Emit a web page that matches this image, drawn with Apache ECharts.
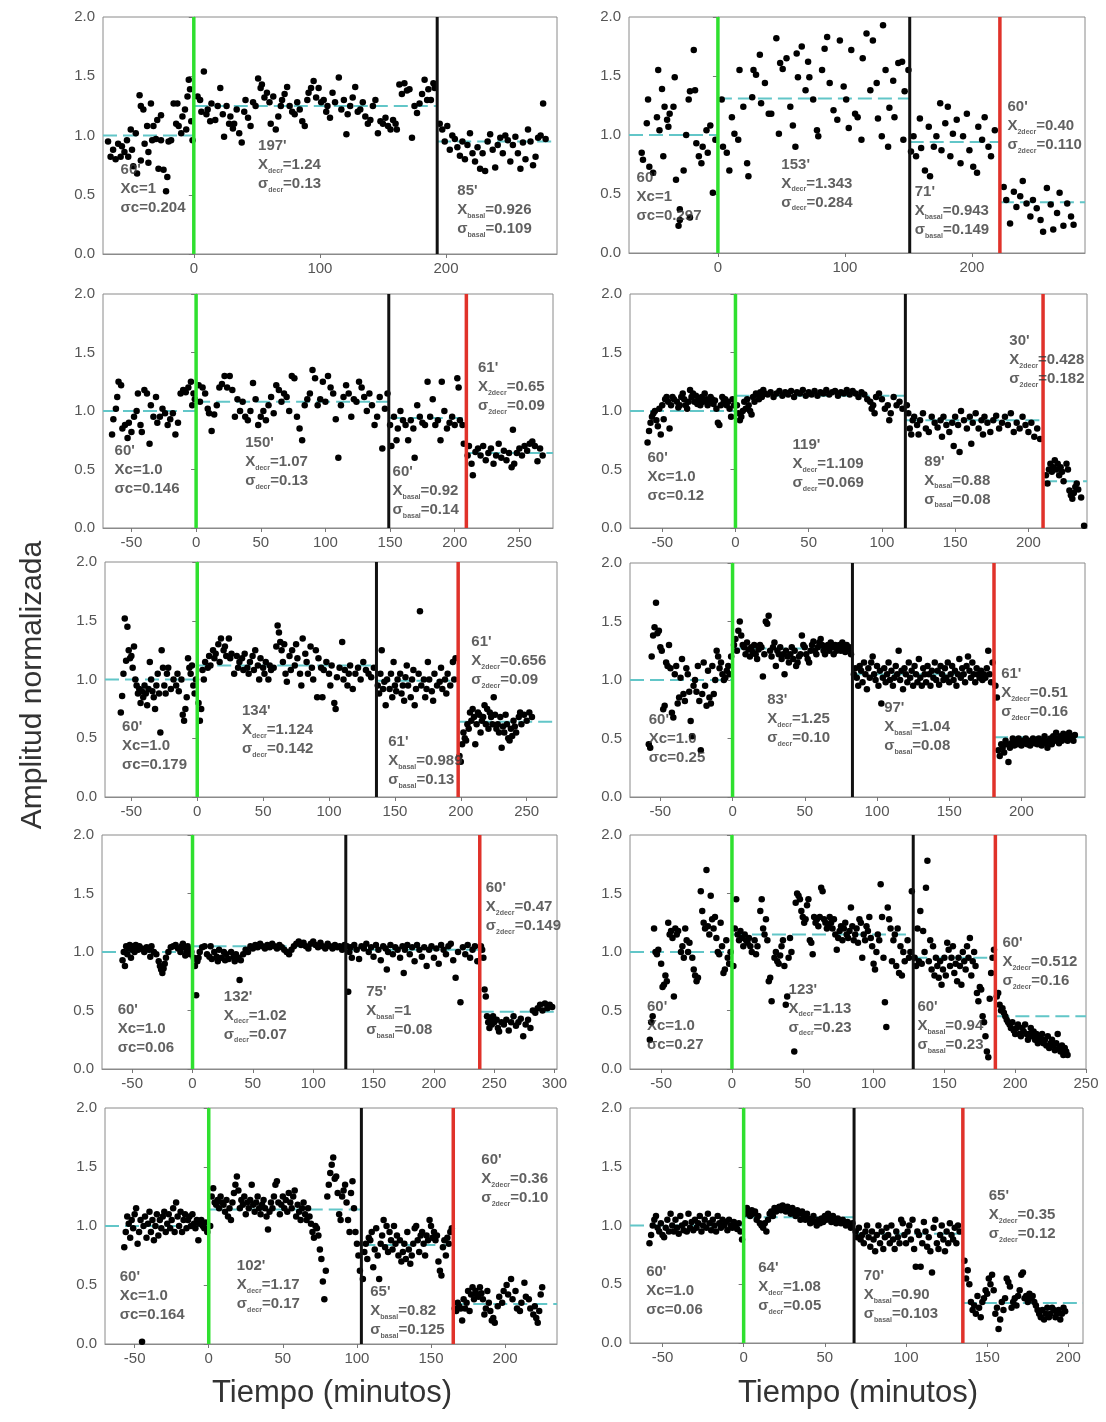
<!DOCTYPE html>
<html><head><meta charset="utf-8">
<script src="https://cdn.jsdelivr.net/npm/echarts@6/dist/echarts.min.js"></script>
<style>html,body{margin:0;padding:0;background:#fff}#c{width:1106px;height:1422px}</style>
</head><body><div id="c"></div>
<script>
// ---------- DATA ----------
const yTicks = [0, 0.5, 1, 1.5, 2];
const xTicks1 = [0, 100, 200];
const xTicks3 = [-50, 0, 50, 100, 150, 200, 250];
const xTicks4 = [-50, 0, 50, 100, 150, 200];
const xTicks7 = [-50, 0, 50, 100, 150, 200, 250, 300];
const xTicks8 = [-50, 0, 50, 100, 150, 200, 250];

const xRanges = [[-72,288],[-70,289],[-72,276],[-72,240],[-70,273],[-71,244],[-75,302],[-72,250],[-70,235],[-70,209]];
// vertical event lines: stimulus start (green), end of decrease (black), second decrease (red)
const events = [[0,193,null],[0,151,222],[0,149,209],[0,116,210],[0,136,198],[0,83,181],[0,127,238],[0,128,186],[0,103,165],[0,68,135]];
// mean levels per segment: control, decr, basal, 2decr
const meanLevels = [[1.0,1.25,0.95,null],[1.0,1.31,0.94,0.43],[1.0,1.08,0.94,0.64],[1.0,1.13,0.92,0.40],[1.0,1.12,0.99,0.64],[1.0,1.27,1.05,0.51],[1.0,1.05,1.02,0.49],[1.0,1.15,0.95,0.45],[1.0,1.14,0.84,0.34],[1.0,1.07,0.93,0.34]];

const p1 = [[-68,0.95],[-66,0.82],[-64,0.88],[-62,0.80],[-60,0.93],[-58,0.82],[-57,0.91],[-55,0.86],[-53,0.96],[-52,0.82],[-50,1.05],[-49,0.88],[-48,0.74],[-46,1.02],[-45,0.68],[-43,1.34],[-42,1.25],[-42,0.79],[-40,1.22],[-39,0.93],[-37,1.08],[-36,0.86],[-36,0.77],[-34,1.27],[-33,0.96],[-32,1.08],[-30,0.97],[-29,1.13],[-28,0.72],[-26,1.17],[-26,0.96],[-24,0.71],[-22,0.53],[-21,0.65],[-20,0.95],[-18,0.96],[-16,1.27],[-14,1.10],[-13,1.27],[-12,1.08],[-10,1.02],[-9,1.16],[-7,1.22],[-6,1.05],[-5,1.33],[-4,1.47],[-3,1.39],[-2,1.12],[-1,0.96],
[3,1.33],[5,1.30],[6,1.20],[8,1.54],[10,1.18],[11,1.22],[13,1.12],[14,1.27],[17,1.13],[19,1.25],[21,1.40],[23,1.18],[24,0.99],[26,1.25],[28,1.10],[29,1.16],[31,1.06],[32,1.10],[34,1.22],[36,1.02],[38,0.94],[40,1.20],[41,1.30],[43,1.15],[45,1.08],[47,1.28],[49,1.25],[51,1.48],[53,1.40],[54,1.43],[56,1.32],[58,1.36],[60,1.28],[61,1.10],[63,1.33],[65,1.05],[67,1.16],[69,1.25],[70,1.30],[72,1.35],[74,1.41],[76,1.25],[78,1.20],[80,1.18],[82,1.28],[84,1.22],[86,1.12],[88,1.08],[90,1.30],[91,1.36],[93,1.40],[95,1.46],[97,1.32],[99,1.40],[101,1.28],[103,1.30],[105,1.20],[106,1.25],[108,1.15],[110,1.36],[112,1.28],[115,1.49],[117,1.22],[119,1.30],[121,1.01],[122,1.18],[124,1.25],[126,1.32],[128,1.41],[130,1.20],[132,1.22],[134,1.28],[136,1.16],[138,1.10],[140,1.13],[142,1.25],[144,1.30],[146,1.02],[148,1.12],[150,1.10],[152,1.15],[154,1.08],[156,1.05],[158,1.13],[160,1.10],[161,1.05],[163,1.43],[165,1.35],[167,1.44],[169,1.38],[171,1.39],[173,0.98],[175,1.25],[177,1.19],[179,1.27],[181,1.35],[183,1.47],[185,1.30],[186,1.39],[188,1.30],[190,1.44],[191,1.40],
[195,1.10],[197,1.05],[199,0.95],[201,1.08],[203,0.88],[205,1.00],[207,0.97],[209,0.90],[211,0.83],[213,0.95],[215,0.80],[217,0.92],[219,1.02],[221,0.85],[223,0.78],[225,0.90],[227,0.72],[229,0.85],[231,0.70],[233,0.95],[235,1.01],[237,0.88],[239,0.73],[241,0.92],[243,0.98],[245,0.85],[247,1.00],[249,0.96],[251,0.78],[253,0.92],[255,0.99],[257,0.85],[259,0.72],[261,0.94],[263,0.80],[265,1.05],[267,0.95],[269,0.75],[271,0.82],[273,0.98],[275,1.00],[277,1.27],[279,0.97]];

const p2 = [[-60,0.85],[-59,0.79],[-56,1.10],[-55,1.30],[-54,0.73],[-51,0.68],[-48,1.15],[-47,1.55],[-46,1.04],[-44,1.39],[-43,0.82],[-42,1.24],[-40,1.13],[-39,1.07],[-38,1.18],[-35,1.24],[-34,1.49],[-33,0.62],[-31,0.23],[-30,0.37],[-30,0.28],[-27,0.70],[-25,1.00],[-23,1.30],[-22,1.37],[-22,0.30],[-19,1.72],[-18,1.38],[-17,0.93],[-15,0.82],[-13,0.76],[-12,0.90],[-9,1.04],[-8,0.85],[-6,1.08],[-4,0.51],[-2,0.96],
[3,1.30],[4,0.90],[7,0.85],[9,0.70],[11,1.15],[13,1.01],[16,0.96],[17,1.55],[20,1.24],[23,0.76],[24,0.65],[27,1.32],[28,1.55],[30,1.51],[33,1.68],[34,1.27],[37,1.44],[40,1.18],[42,1.18],[46,1.82],[48,1.01],[49,1.61],[51,1.56],[54,1.65],[57,1.24],[59,1.08],[61,0.90],[62,1.69],[63,1.49],[66,1.75],[69,1.38],[71,1.62],[72,1.49],[75,1.30],[78,1.04],[79,0.99],[82,1.55],[84,1.73],[86,1.83],[88,1.44],[91,1.21],[94,1.13],[96,1.80],[99,1.41],[101,1.30],[103,1.06],[105,1.72],[108,1.18],[110,1.15],[113,0.96],[114,1.65],[117,1.86],[120,1.38],[122,1.80],[125,1.44],[126,1.14],[129,0.99],[130,1.93],[132,1.55],[134,0.90],[135,1.23],[138,1.46],[139,1.15],[142,1.61],[145,1.62],[146,0.96],[147,1.37],[150,1.55],
[152,0.86],[154,0.99],[156,0.82],[159,1.14],[160,0.89],[163,0.70],[166,1.07],[167,0.65],[170,0.90],[172,0.99],[175,1.27],[176,0.87],[179,1.10],[181,1.24],[183,0.82],[185,1.01],[188,1.13],[191,0.76],[193,0.99],[196,1.18],[198,0.87],[201,0.73],[204,0.68],[205,1.07],[208,0.96],[210,1.15],[213,0.90],[215,0.82],[218,1.04],
[225,0.56],[227,0.45],[230,0.25],[233,0.52],[235,0.39],[238,0.48],[240,0.61],[243,0.42],[246,0.31],[248,0.45],[251,0.38],[254,0.28],[256,0.18],[259,0.55],[262,0.41],[264,0.20],[267,0.34],[269,0.51],[272,0.23],[275,0.42],[278,0.31],[280,0.24]];

const p3 = [[-65,0.80],[-64,0.93],[-62,1.02],[-61,1.12],[-60,1.25],[-58,1.22],[-57,0.85],[-55,0.88],[-53,0.77],[-52,0.90],[-50,0.82],[-48,0.95],[-46,1.00],[-45,1.15],[-43,0.88],[-42,0.82],[-40,1.18],[-38,1.15],[-36,0.72],[-35,1.05],[-33,0.95],[-31,1.12],[-30,0.90],[-28,0.95],[-26,1.02],[-24,0.98],[-22,0.88],[-20,0.93],[-18,0.98],[-16,0.80],[-14,0.90],[-12,1.15],[-10,1.18],[-8,1.16],[-6,1.20],[-4,1.25],[-3,1.05],[-2,1.15],[-1,1.10],
[2,1.22],[3,1.08],[5,1.20],[7,1.15],[9,1.02],[10,0.98],[12,0.83],[14,0.97],[16,1.05],[18,1.20],[20,1.23],[22,1.30],[24,1.20],[26,1.30],[28,1.18],[30,0.95],[32,1.10],[34,1.00],[36,1.08],[38,0.95],[40,0.92],[42,1.00],[44,1.24],[46,1.10],[48,0.88],[50,0.95],[52,1.00],[54,0.92],[56,1.05],[58,1.12],[60,0.98],[62,1.22],[64,1.18],[66,1.08],[68,1.15],[70,1.12],[72,1.00],[74,1.30],[76,1.28],[78,0.95],[80,0.85],[82,0.75],[84,1.05],[86,1.10],[88,1.15],[90,1.35],[92,1.28],[94,1.05],[96,1.10],[98,1.25],[100,1.08],[102,1.30],[104,1.20],[106,1.15],[108,0.93],[110,0.60],[112,1.05],[114,1.12],[116,1.22],[118,1.15],[120,0.95],[122,1.10],[124,1.08],[126,1.25],[128,1.20],[130,1.12],[132,1.00],[134,1.15],[136,1.05],[138,0.88],[140,0.95],[142,1.12],[144,0.68],[146,1.02],[148,1.15],
[150,0.88],[151,0.70],[153,0.95],[155,0.75],[156,0.85],[158,1.00],[160,0.92],[162,0.88],[164,0.75],[166,0.92],[168,0.85],[169,0.60],[171,1.05],[173,0.95],[175,0.90],[177,0.88],[179,1.25],[181,0.95],[183,1.10],[185,0.88],[187,0.92],[189,0.75],[190,1.25],[192,1.00],[194,0.85],[196,0.90],[198,0.95],[200,0.88],[202,1.28],[203,1.20],[204,0.92],[206,0.88],[207,0.72],
[210,0.62],[211,0.70],[213,0.55],[214,0.45],[216,0.65],[218,0.68],[220,0.62],[222,0.70],[224,0.58],[226,0.64],[228,0.68],[230,0.55],[232,0.62],[234,0.72],[236,0.60],[238,0.66],[240,0.58],[242,0.64],[244,0.52],[245,0.84],[246,0.55],[248,0.64],[250,0.68],[252,0.62],[254,0.70],[256,0.66],[258,0.72],[260,0.74],[262,0.70],[264,0.57],[266,0.68],[268,0.62]];

const p4 = [[-60,0.73],[-59,0.83],[-58,0.90],[-57,0.95],[-56,0.98],[-55,1.00],[-54,0.92],[-53,0.87],[-52,1.02],[-51,0.80],[-50,1.05],[-49,0.93],[-48,1.10],[-47,1.12],[-46,1.08],[-45,0.85],[-44,1.05],[-43,1.12],[-42,1.10],[-40,1.08],[-39,1.03],[-38,1.05],[-37,1.12],[-36,1.15],[-35,1.10],[-34,1.05],[-33,1.02],[-32,1.08],[-31,1.18],[-30,1.12],[-29,1.15],[-28,1.08],[-27,1.13],[-26,1.06],[-25,1.10],[-24,1.05],[-23,1.12],[-22,1.08],[-21,1.15],[-20,1.10],[-19,1.05],[-18,1.08],[-17,1.12],[-16,1.10],[-15,1.06],[-14,1.09],[-13,1.02],[-12,0.90],[-11,0.88],[-10,1.05],[-9,1.12],[-8,1.08],[-7,1.10],[-6,1.05],[-5,1.08],[-4,1.02],[-3,0.95],[-2,1.10],[-1,1.05],
[1,1.05],[2,0.98],[3,0.92],[4,0.95],[5,1.00],[6,1.08],[7,1.02],[8,1.10],[9,1.05],[10,1.00],[11,0.97],[12,1.12],[13,1.08],[14,1.15],[15,1.14],[16,1.10],[17,1.16],[18,1.12],[19,1.18],[20,1.15],[22,1.14],[24,1.16],[26,1.12],[28,1.15],[30,1.17],[32,1.13],[34,1.16],[36,1.14],[38,1.17],[40,1.12],[42,1.16],[44,1.15],[46,1.18],[48,1.13],[50,1.16],[52,1.14],[54,1.17],[56,1.13],[58,1.16],[60,1.15],[62,1.18],[64,1.14],[66,1.16],[68,1.17],[70,1.13],[72,1.16],[74,1.15],[76,1.18],[78,1.14],[80,1.17],[82,1.15],[84,1.12],[86,1.16],[88,1.14],[90,1.10],[92,1.08],[93,1.02],[94,1.05],[95,0.98],[96,1.12],[98,1.15],[100,1.10],[102,1.02],[104,1.05],[105,0.92],[106,0.98],[108,1.12],[110,1.05],[112,1.08],[114,1.02],
[117,1.05],[118,0.98],[119,0.85],[120,0.80],[121,0.92],[122,0.95],[124,0.88],[125,0.80],[126,0.92],[128,0.98],[130,0.85],[132,0.82],[134,0.95],[136,0.90],[138,0.86],[140,0.92],[141,0.78],[142,0.95],[144,0.88],[146,0.82],[148,0.90],[149,0.70],[150,0.95],[152,0.88],[153,0.65],[154,1.00],[156,0.92],[158,0.85],[160,0.95],[161,0.72],[162,0.90],[164,0.98],[166,0.85],[168,0.92],[169,0.80],[170,0.95],[172,0.90],[174,0.82],[176,0.92],[178,0.96],[180,0.85],[182,0.90],[184,0.95],[186,0.88],[188,0.98],[190,0.82],[192,0.90],[194,0.85],[196,0.95],[198,0.88],[200,0.82],[202,0.90],[204,0.78],[206,0.85],[208,0.76],
[212,0.45],[213,0.38],[214,0.50],[215,0.55],[216,0.48],[217,0.52],[218,0.58],[219,0.50],[220,0.55],[221,0.45],[222,0.52],[223,0.48],[224,0.40],[226,0.55],[227,0.50],[228,0.32],[229,0.28],[230,0.25],[231,0.30],[232,0.35],[233,0.38],[234,0.33],[236,0.26],[238,0.02]];

const p5 = [[-58,0.72],[-57,0.86],[-56,1.05],[-55,1.52],[-54,1.16],[-53,1.45],[-52,1.25],[-51,1.18],[-50,1.20],[-49,1.10],[-48,1.28],[-47,1.00],[-46,0.95],[-45,0.88],[-44,0.92],[-43,0.80],[-42,0.90],[-41,0.85],[-40,0.95],[-39,0.88],[-38,0.78],[-37,0.92],[-36,1.15],[-35,1.00],[-34,0.90],[-33,0.85],[-32,0.75],[-31,0.95],[-30,1.05],[-29,0.88],[-28,0.55],[-27,1.25],[-26,1.10],[-25,0.95],[-24,0.88],[-23,1.05],[-22,1.10],[-20,0.92],[-18,1.00],[-16,0.95],[-15,1.05],[-14,0.90],[-12,1.00],[-11,0.70],[-10,0.65],[-9,0.75],[-8,0.85],[-7,1.18],[-6,1.10],[-5,1.05],[-4,1.12],[-3,0.95],[-2,0.88],[-1,1.00],
[1,0.80],[2,0.65],[3,0.75],[4,1.08],[5,1.00],[6,1.15],[8,1.10],[9,1.20],[10,1.12],[12,1.25],[13,1.18],[14,1.22],[16,1.30],[17,1.15],[18,1.35],[20,1.25],[21,1.28],[22,1.20],[24,1.35],[25,1.18],[26,1.22],[28,1.05],[30,1.20],[31,1.10],[32,1.15],[34,1.18],[35,1.08],[36,1.22],[38,1.10],[39,1.05],[40,1.15],[42,1.20],[43,1.08],[44,1.25],[46,1.12],[47,1.00],[48,1.18],[50,1.10],[51,1.05],[52,1.15],[54,1.00],[55,1.12],[56,1.08],[58,1.10],[60,1.28],[61,1.46],[62,1.40],[63,1.32],[64,1.25],[65,1.15],[66,1.30],[67,1.05],[68,0.98],[70,1.20],[71,1.08],[72,1.25],[74,1.12],[75,1.30],[76,1.18],[78,1.05],[79,0.95],[80,1.35],[82,1.22],[83,1.15],[84,1.05],[86,1.28],[87,1.10],[88,1.00],[90,1.25],[91,0.85],[92,1.18],[94,1.10],[95,0.85],[96,1.08],[98,1.15],[100,1.05],[101,0.95],[102,1.12],[104,0.80],[105,0.75],[106,1.02],[108,1.10],[110,1.32],[111,1.00],[112,1.08],[114,0.95],[115,1.05],[116,1.12],[118,0.92],[120,1.05],[122,1.10],[124,1.00],[126,1.15],[128,1.08],[130,1.05],[132,1.02],[134,1.10],
[137,0.95],[138,0.88],[139,1.05],[140,1.25],[141,0.92],[142,0.98],[143,0.78],[144,1.00],[146,0.92],[147,1.05],[148,0.85],[149,1.15],[150,0.95],[151,0.90],[152,1.00],[154,1.05],[155,0.88],[156,0.95],[157,0.82],[158,1.02],[159,1.12],[160,0.95],[162,0.85],[163,1.00],[164,1.08],[165,0.78],[166,0.92],[168,1.05],[169,1.58],[170,0.95],[172,1.00],[173,0.85],[174,0.92],[175,1.15],[176,1.00],[178,0.90],[179,0.82],[180,1.05],[182,0.95],[184,0.98],[185,1.10],[186,0.92],[188,1.00],[189,0.88],[190,1.05],[192,0.95],[194,1.15],[195,1.00],[196,1.18],
[199,0.35],[200,0.30],[201,0.45],[202,0.55],[203,0.50],[204,0.48],[205,0.62],[206,0.58],[207,0.72],[208,0.65],[209,0.75],[210,0.68],[211,0.45],[212,0.62],[213,0.72],[214,0.70],[215,0.55],[216,0.65],[217,0.68],[218,0.78],[219,0.62],[220,0.75],[221,0.58],[222,0.72],[223,0.68],[224,0.62],[225,0.85],[226,0.70],[227,0.58],[228,0.62],[229,0.55],[230,0.68],[231,0.42],[232,0.60],[233,0.55],[234,0.70],[235,0.62],[236,0.50],[237,0.48],[238,0.58],[239,0.52],[240,0.65],[241,0.60],[242,0.55],[244,0.68],[245,0.72],[246,0.62],[248,0.70],[250,0.65],[252,0.72],[254,0.68]];

const p6 = [[-58,0.45],[-57,0.42],[-56,1.20],[-55,1.38],[-54,1.45],[-53,1.66],[-52,1.40],[-51,1.42],[-50,1.28],[-49,1.25],[-48,0.75],[-47,0.78],[-46,1.15],[-45,1.12],[-44,1.30],[-43,1.10],[-42,0.72],[-41,0.68],[-40,1.05],[-39,1.12],[-38,0.80],[-37,0.85],[-36,1.02],[-35,1.18],[-34,0.88],[-33,0.82],[-32,1.10],[-31,1.05],[-30,0.90],[-29,0.65],[-28,0.52],[-27,0.95],[-26,1.00],[-25,0.90],[-24,1.12],[-23,0.82],[-22,0.40],[-21,0.88],[-20,1.15],[-19,0.95],[-18,0.78],[-17,1.08],[-16,0.85],[-15,0.80],[-14,1.12],[-13,0.88],[-12,1.00],[-11,1.25],[-10,1.20],[-9,1.10],[-8,1.15],[-7,1.05],[-6,1.00],[-5,1.02],[-4,1.08],[-3,1.12],[-2,1.05],[-1,1.20],
[1,1.30],[2,1.35],[3,1.25],[4,1.42],[5,1.50],[6,1.38],[7,1.30],[8,1.28],[9,1.22],[10,1.32],[11,1.26],[12,1.20],[13,1.28],[14,1.24],[15,1.30],[16,1.22],[17,1.18],[18,1.26],[19,1.30],[20,1.28],[21,1.03],[22,1.22],[23,1.50],[24,1.48],[25,1.55],[26,1.25],[27,1.20],[28,1.28],[29,1.32],[30,1.12],[31,1.25],[32,1.22],[33,1.28],[34,1.18],[35,1.22],[36,1.05],[37,1.25],[38,1.20],[39,1.15],[40,1.22],[41,1.28],[42,1.18],[43,1.25],[44,1.12],[45,1.15],[46,1.20],[47,1.22],[48,1.38],[49,1.30],[50,1.28],[51,1.22],[52,1.18],[53,1.15],[54,1.25],[55,1.30],[56,1.33],[57,1.25],[58,1.22],[59,1.28],[60,1.32],[61,1.35],[62,1.30],[63,1.25],[64,1.22],[65,1.28],[66,1.30],[67,1.25],[68,1.32],[69,1.28],[70,1.22],[71,1.30],[72,1.25],[73,1.28],[74,1.30],[75,1.25],[76,1.32],[77,1.28],[78,1.24],[79,1.30],[80,1.26],[81,1.28],[82,1.22],
[84,1.05],[85,1.10],[86,1.02],[87,0.95],[88,1.12],[89,1.08],[90,0.98],[91,1.15],[92,1.05],[93,0.92],[94,1.10],[95,1.02],[96,1.15],[97,1.20],[98,1.05],[99,1.00],[100,1.12],[101,0.95],[102,1.08],[103,0.80],[104,1.02],[105,1.10],[106,0.98],[107,1.05],[108,1.15],[109,1.00],[110,1.08],[111,0.95],[112,1.02],[113,1.12],[114,1.05],[115,1.25],[116,1.00],[117,1.08],[118,0.92],[119,1.10],[120,1.05],[121,0.98],[122,1.15],[123,1.02],[124,1.08],[125,0.95],[126,1.12],[127,1.05],[128,0.98],[129,1.18],[130,1.02],[131,0.95],[132,1.10],[133,1.05],[134,0.98],[135,1.12],[136,1.05],[137,0.95],[138,1.08],[139,1.02],[140,1.15],[141,1.00],[142,1.08],[143,0.96],[144,1.12],[145,1.05],[146,1.00],[147,1.10],[148,1.02],[149,1.15],[150,0.98],[151,1.05],[152,1.12],[153,1.00],[154,1.08],[155,0.95],[156,1.05],[157,1.18],[158,1.02],[159,1.10],[160,1.05],[161,0.98],[162,1.12],[163,1.20],[164,1.08],[165,1.02],[166,1.15],[167,1.05],[168,0.98],[169,1.10],[170,1.05],[171,1.02],[172,1.08],[173,1.00],[174,1.05],[175,1.02],[176,1.10],[177,1.25],[178,1.05],[179,0.98],[180,1.15],
[182,0.95],[183,0.85],[184,0.40],[185,0.35],[186,0.45],[187,0.42],[188,0.38],[189,0.48],[190,0.45],[191,0.30],[192,0.42],[193,0.46],[194,0.50],[195,0.44],[196,0.48],[197,0.45],[198,0.50],[199,0.47],[200,0.44],[201,0.48],[202,0.46],[203,0.50],[204,0.45],[205,0.48],[206,0.44],[207,0.47],[208,0.50],[209,0.46],[210,0.48],[211,0.45],[212,0.50],[213,0.47],[214,0.44],[215,0.48],[216,0.52],[217,0.46],[218,0.42],[219,0.48],[220,0.50],[221,0.45],[222,0.52],[223,0.48],[224,0.55],[225,0.50],[226,0.46],[227,0.52],[228,0.48],[229,0.54],[230,0.50],[231,0.52],[232,0.48],[233,0.55],[234,0.50],[235,0.52],[236,0.48],[237,0.53]];

const p7 = [[-58,0.93],[-57,1.00],[-56,0.88],[-55,1.05],[-54,0.98],[-53,1.03],[-52,1.06],[-51,0.95],[-50,1.02],[-49,1.05],[-48,1.00],[-47,1.06],[-46,1.04],[-45,1.02],[-44,1.05],[-42,1.03],[-40,1.00],[-38,1.04],[-36,1.02],[-35,0.96],[-34,1.05],[-32,1.00],[-30,0.98],[-28,0.92],[-27,0.88],[-26,0.85],[-25,0.82],[-24,0.86],[-23,0.90],[-22,0.95],[-20,1.00],[-18,1.04],[-16,1.05],[-14,1.06],[-12,1.03],[-10,1.00],[-9,1.05],[-8,1.07],[-7,1.04],[-6,0.97],[-5,1.00],[-4,1.05],[-3,1.02],[-2,0.98],[-1,1.00],
[1,0.95],[2,0.88],[3,0.63],[4,0.92],[5,0.95],[6,1.00],[8,1.04],[10,1.05],[12,0.98],[14,0.96],[15,1.05],[16,0.94],[18,1.00],[20,0.96],[21,0.92],[22,1.02],[24,0.95],[26,1.00],[27,0.93],[28,0.98],[30,0.94],[32,1.00],[34,0.96],[35,0.92],[36,0.98],[38,0.95],[39,0.76],[40,0.93],[42,0.98],[44,1.02],[46,1.00],[48,1.05],[50,1.03],[52,1.06],[54,1.04],[56,1.07],[58,1.05],[60,1.03],[62,1.06],[64,1.04],[66,1.07],[68,1.05],[70,1.03],[72,1.06],[74,1.04],[76,1.02],[78,1.00],[80,0.98],[82,1.02],[84,1.05],[86,1.07],[88,1.09],[90,1.06],[92,1.08],[94,1.05],[96,1.03],[98,1.07],[100,1.09],[102,1.06],[104,1.04],[106,1.08],[108,1.05],[110,1.03],[112,1.07],[114,1.05],[116,1.03],[118,1.06],[120,1.04],[122,1.05],[124,1.02],[126,1.06],
[128,1.05],[129,0.66],[130,1.00],[131,1.04],[132,0.95],[134,1.06],[136,1.02],[138,0.94],[140,1.05],[142,1.03],[144,1.07],[146,1.00],[148,1.04],[150,0.96],[152,1.06],[154,1.02],[156,0.93],[158,1.05],[160,1.03],[161,0.85],[162,1.00],[164,1.06],[166,0.98],[168,1.04],[170,1.02],[172,0.95],[174,1.05],[175,0.82],[176,1.02],[178,1.06],[180,0.98],[182,1.04],[184,0.92],[186,1.06],[188,1.02],[190,0.96],[192,1.04],[194,0.88],[196,1.02],[198,1.05],[200,0.95],[202,1.03],[204,0.90],[206,1.06],[208,1.02],[210,0.98],[212,1.05],[214,1.07],[216,0.93],[218,0.78],[220,1.00],[222,0.57],[224,1.04],[226,0.98],[228,1.06],[230,0.95],[232,1.02],[234,1.05],[236,0.92],
[239,1.05],[240,1.02],[241,0.95],[242,0.68],[243,0.62],[244,0.45],[245,0.40],[246,0.35],[247,0.42],[248,0.38],[249,0.45],[250,0.40],[252,0.42],[253,0.35],[254,0.32],[256,0.40],[258,0.38],[260,0.42],[262,0.33],[264,0.40],[266,0.45],[268,0.37],[270,0.40],[272,0.43],[274,0.28],[276,0.38],[278,0.42],[280,0.35],[282,0.50],[284,0.48],[286,0.52],[288,0.55],[290,0.50],[292,0.56],[294,0.52],[296,0.55],[298,0.53]];

const p8 = [[-58,0.25],[-57,0.40],[-56,0.45],[-55,1.20],[-54,1.00],[-53,0.98],[-52,1.02],[-50,0.90],[-49,0.70],[-48,0.72],[-47,0.80],[-46,0.75],[-45,1.25],[-44,1.15],[-43,1.18],[-42,1.12],[-41,0.62],[-40,1.20],[-39,1.15],[-38,1.18],[-36,1.00],[-35,1.05],[-34,0.95],[-33,1.20],[-32,1.10],[-31,1.00],[-30,1.08],[-28,0.95],[-27,0.85],[-26,0.80],[-25,0.75],[-24,0.78],[-22,1.52],[-21,1.35],[-20,1.25],[-19,1.20],[-18,1.70],[-17,1.22],[-16,1.15],[-15,1.48],[-14,1.28],[-13,1.20],[-12,1.30],[-11,1.12],[-10,1.00],[-9,0.98],[-8,1.25],[-7,1.05],[-6,0.82],[-5,0.85],[-4,1.10],[-3,0.95],[-2,0.90],[-1,1.00],
[1,0.88],[2,1.20],[3,1.45],[4,1.15],[5,1.10],[6,1.18],[7,1.12],[8,1.05],[9,1.15],[10,1.10],[11,1.08],[12,1.12],[13,1.05],[14,1.00],[16,1.10],[17,0.98],[18,1.05],[20,1.35],[21,1.45],[22,1.20],[23,1.15],[24,1.28],[25,1.10],[26,0.75],[27,0.78],[28,0.58],[30,0.95],[31,1.00],[32,0.92],[33,0.90],[34,0.97],[35,1.05],[36,1.10],[37,0.88],[38,0.55],[39,0.62],[40,0.95],[41,1.12],[42,1.00],[44,0.15],[45,1.42],[46,1.50],[47,1.48],[48,1.45],[49,1.35],[50,1.30],[51,1.25],[52,1.28],[53,1.40],[54,1.45],[55,1.10],[56,1.08],[57,0.98],[58,1.30],[59,1.25],[60,1.28],[61,1.22],[62,1.30],[63,1.55],[64,1.52],[65,1.28],[66,1.25],[67,1.20],[68,1.22],[69,1.30],[70,1.25],[71,1.20],[72,1.28],[73,1.15],[74,1.02],[75,1.12],[76,1.18],[77,1.22],[78,1.10],[79,1.20],[80,1.25],[81,1.15],[82,1.12],[83,1.18],[84,1.38],[85,1.22],[86,1.10],[87,1.15],[88,1.20],[89,1.08],[90,1.28],[91,1.25],[92,0.95],[93,1.15],[94,1.10],[95,1.22],[96,1.18],[97,1.30],[98,1.12],[99,1.05],[100,0.90],[101,0.85],[102,1.00],[103,1.15],[104,1.10],[105,1.58],[106,1.30],[107,0.95],[108,0.57],[109,0.36],[110,1.38],[111,1.28],[112,1.20],[113,0.92],[114,1.10],[115,1.15],[116,0.88],[117,1.20],[118,0.82],[119,1.05],[120,0.80],[121,1.00],[122,0.92],[124,1.10],[125,0.95],[126,1.00],[127,1.52],
[129,0.95],[130,0.88],[131,1.20],[132,0.92],[133,1.35],[134,0.90],[135,1.18],[136,1.00],[137,1.55],[138,1.78],[139,0.92],[140,1.10],[141,0.85],[142,1.05],[143,0.80],[144,0.95],[145,0.88],[146,0.78],[147,0.92],[148,0.72],[149,0.85],[150,0.95],[151,0.80],[152,1.08],[153,1.02],[154,0.88],[155,0.95],[156,1.05],[157,0.82],[158,0.90],[159,0.75],[160,0.95],[161,0.88],[162,0.72],[163,1.00],[164,0.92],[165,0.85],[166,1.05],[167,0.95],[168,1.12],[169,0.80],[170,0.92],[171,1.00],[172,0.88],[173,0.65],[174,0.58],[175,0.70],[176,0.68],[177,0.45],[178,0.40],[179,0.28],[180,0.15],[181,0.10],[182,0.60],[183,0.82],[184,0.95],[185,1.02],
[187,0.62],[188,0.65],[189,0.55],[190,0.50],[191,0.52],[192,0.48],[193,0.45],[194,0.42],[195,0.40],[196,0.38],[197,0.35],[198,0.40],[199,0.33],[200,0.30],[201,0.35],[202,0.38],[203,0.30],[204,0.28],[205,0.35],[206,0.32],[207,0.38],[208,0.30],[209,0.25],[210,0.30],[211,0.35],[212,0.28],[213,0.32],[214,0.25],[215,0.30],[216,0.22],[217,0.28],[218,0.25],[219,0.30],[220,0.22],[221,0.25],[222,0.20],[223,0.28],[224,0.18],[225,0.22],[226,0.25],[227,0.20],[228,0.16],[229,0.22],[230,0.30],[231,0.18],[232,0.15],[233,0.20],[234,0.12],[235,0.18],[236,0.15],[237,0.12]];

const p9 = [[-57,0.82],[-56,0.95],[-55,1.08],[-54,1.02],[-53,0.90],[-52,1.05],[-51,0.98],[-50,1.10],[-49,1.15],[-48,0.85],[-47,0.95],[-46,1.05],[-45,0.02],[-44,1.00],[-43,1.08],[-42,0.90],[-41,1.02],[-40,1.12],[-39,0.95],[-38,1.05],[-37,0.88],[-36,1.00],[-35,1.10],[-34,0.92],[-33,1.05],[-32,0.98],[-31,1.08],[-30,1.12],[-29,0.95],[-28,1.02],[-27,1.10],[-26,0.98],[-25,1.05],[-24,1.15],[-23,0.95],[-22,1.20],[-21,1.08],[-20,1.00],[-19,1.12],[-18,0.95],[-17,1.05],[-16,1.10],[-15,0.98],[-14,1.05],[-13,1.08],[-12,1.00],[-11,1.10],[-10,1.02],[-9,0.98],[-8,1.05],[-7,0.88],[-6,1.02],[-5,1.05],[-4,1.00],[-3,0.98],[-2,1.03],[-1,0.95],
[1,1.00],[2,1.25],[3,1.32],[4,1.20],[5,1.18],[6,1.22],[7,1.15],[8,1.25],[9,1.20],[10,1.18],[11,1.12],[12,1.22],[13,1.08],[14,1.15],[15,1.05],[16,1.20],[17,1.28],[18,1.35],[19,1.42],[20,1.30],[21,1.15],[22,1.22],[23,1.18],[24,1.25],[25,1.10],[26,1.20],[27,1.15],[28,1.22],[29,1.35],[30,1.18],[31,1.12],[32,1.20],[33,1.25],[34,1.15],[35,1.10],[36,1.18],[37,1.22],[38,1.15],[39,1.08],[40,0.97],[41,1.12],[42,1.20],[43,1.15],[44,1.25],[45,1.35],[46,1.38],[47,1.20],[48,1.10],[49,1.18],[50,1.25],[51,1.15],[52,1.22],[53,1.12],[54,1.28],[55,1.20],[56,1.15],[57,1.25],[58,1.30],[59,1.08],[60,1.18],[61,1.12],[62,1.05],[63,1.15],[64,1.20],[65,1.10],[66,1.05],[67,1.15],[68,1.08],[69,1.02],[70,0.95],[71,0.90],[72,1.00],[73,0.98],[74,0.92],[75,0.80],[76,0.72],[77,0.53],[78,0.38],[79,0.62],[80,1.25],[81,1.35],[82,1.45],[83,1.52],[84,1.58],[85,1.40],[86,1.42],[87,1.28],[88,1.10],[89,1.05],[90,1.25],[91,1.30],[92,1.35],[93,1.20],[94,1.05],[95,0.95],[96,1.28],[97,1.38],[98,1.15],[99,0.95],[100,0.85],[101,0.75],[102,0.62],
[104,0.55],[105,0.78],[106,0.85],[107,0.72],[108,0.90],[109,0.88],[110,0.95],[111,0.65],[112,0.80],[113,0.98],[114,0.75],[115,0.55],[116,0.85],[117,0.92],[118,1.05],[119,0.82],[120,1.00],[121,0.78],[122,0.95],[123,0.88],[124,0.80],[125,1.00],[126,0.85],[127,0.92],[128,0.75],[129,0.88],[130,0.70],[131,0.78],[132,0.85],[133,0.72],[134,0.95],[135,0.80],[136,0.68],[137,0.75],[138,0.85],[139,0.98],[140,1.00],[141,0.88],[142,0.78],[143,0.92],[144,0.95],[145,0.85],[146,0.75],[147,0.92],[148,0.88],[149,1.05],[150,1.00],[151,0.90],[152,0.95],[153,0.88],[154,0.92],[155,0.70],[156,0.62],[157,0.58],[158,0.82],[159,0.88],[160,0.75],[161,0.90],[162,0.85],[163,0.95],[164,0.98],
[166,0.30],[167,0.28],[168,0.35],[169,0.32],[170,0.30],[171,0.20],[172,0.38],[173,0.30],[174,0.35],[175,0.45],[176,0.28],[177,0.42],[178,0.48],[179,0.38],[180,0.45],[181,0.42],[182,0.40],[183,0.48],[184,0.43],[185,0.38],[186,0.25],[187,0.30],[188,0.45],[189,0.35],[190,0.28],[191,0.20],[192,0.22],[193,0.18],[195,0.32],[196,0.40],[198,0.35],[199,0.45],[201,0.50],[202,0.42],[204,0.55],[205,0.38],[207,0.45],[208,0.30],[210,0.28],[211,0.35],[213,0.52],[214,0.40],[216,0.38],[217,0.30],[219,0.25],[220,0.32],[221,0.22],[222,0.18],[223,0.28],[224,0.42],[225,0.48]];

const p10 = [[-58,0.85],[-57,0.92],[-56,1.00],[-55,1.05],[-54,1.08],[-53,0.98],[-52,0.95],[-51,1.02],[-50,0.92],[-49,0.90],[-48,0.98],[-47,1.05],[-46,0.95],[-45,1.10],[-44,1.00],[-43,0.95],[-42,1.05],[-41,0.98],[-40,0.93],[-39,1.08],[-38,1.00],[-37,0.96],[-36,1.02],[-35,0.95],[-34,1.10],[-33,0.98],[-32,1.03],[-31,0.96],[-30,1.05],[-29,0.98],[-28,1.02],[-27,1.08],[-26,0.95],[-25,1.00],[-24,1.05],[-23,0.98],[-22,1.10],[-21,1.02],[-20,0.96],[-19,1.05],[-18,1.00],[-17,0.95],[-16,1.08],[-15,1.02],[-14,0.98],[-13,1.05],[-12,1.00],[-11,1.03],[-10,0.96],[-9,1.05],[-8,1.00],[-7,0.98],[-6,1.03],[-5,1.00],[-4,0.97],[-3,1.02],[-2,0.95],[-1,0.88],
[1,1.10],[2,1.15],[3,1.12],[4,1.08],[5,1.13],[6,1.10],[7,1.12],[8,1.05],[9,1.08],[10,1.02],[11,1.00],[12,0.98],[13,1.02],[14,0.95],[15,1.05],[16,1.10],[17,1.12],[18,1.08],[19,1.15],[20,1.12],[21,1.15],[22,1.16],[23,1.13],[24,1.17],[25,1.15],[26,1.12],[27,1.16],[28,1.14],[29,1.10],[30,1.15],[31,1.12],[32,1.08],[33,1.13],[34,1.10],[35,1.05],[36,1.12],[37,1.08],[38,1.05],[39,1.10],[40,1.06],[41,1.02],[42,1.05],[43,1.08],[44,1.03],[45,1.00],[46,1.05],[47,1.02],[48,1.06],[49,1.03],[50,1.08],[51,1.05],[52,1.10],[53,1.06],[54,1.03],[55,1.08],[56,1.05],[57,1.02],[58,1.06],[59,1.04],[60,1.02],[61,1.05],[62,1.03],[63,1.00],[64,1.03],[65,1.01],[66,0.98],[67,1.02],
[69,0.95],[70,0.90],[71,0.98],[72,0.88],[73,0.92],[74,0.85],[75,0.95],[76,1.00],[77,0.90],[78,0.82],[79,0.95],[80,0.88],[81,0.78],[82,0.92],[83,1.00],[84,0.85],[85,0.95],[86,0.80],[87,0.90],[88,0.98],[89,0.92],[90,0.85],[91,1.00],[92,0.88],[93,0.80],[94,0.95],[95,0.90],[96,0.85],[97,1.05],[98,1.02],[99,0.92],[100,0.85],[101,0.95],[102,1.00],[103,0.88],[104,1.05],[105,0.80],[106,0.65],[107,0.95],[108,0.92],[109,0.65],[110,0.85],[111,1.03],[112,0.95],[113,0.82],[114,0.90],[115,0.78],[116,0.60],[117,0.98],[118,1.05],[119,0.85],[120,0.80],[121,0.92],[122,1.00],[123,0.88],[124,0.78],[125,0.95],[126,0.85],[127,1.02],[128,0.92],[129,0.88],[130,0.98],[131,0.85],[132,1.00],[133,0.95],
[136,0.70],[137,0.55],[138,0.62],[139,0.50],[140,0.35],[141,0.28],[142,0.32],[143,0.25],[144,0.40],[145,0.30],[146,0.22],[147,0.35],[148,0.38],[149,0.45],[150,0.42],[151,0.55],[152,0.50],[153,0.58],[154,0.45],[155,0.25],[156,0.30],[157,0.12],[158,0.20],[159,0.35],[160,0.28],[161,0.38],[162,0.55],[163,0.52],[164,0.48],[165,0.30],[166,0.35],[167,0.38],[168,0.32],[169,0.40],[170,0.45],[171,0.58],[172,0.60],[173,0.38],[174,0.40],[175,0.35],[176,0.42],[177,0.38],[178,0.40],[179,0.35],[180,0.32],[181,0.28],[182,0.25],[183,0.22],[184,0.28],[185,0.20],[186,0.25],[187,0.30],[188,0.22],[189,0.25],[190,0.30],[191,0.28],[192,0.22],[193,0.25],[194,0.28],[195,0.20],[196,0.25],[197,0.30],[198,0.27]];

// annotation texts (X_sub / σ_sub use "_" for subscript)
const notes = [
 [["60'","Xc=1","σc=0.204"],["197'","X_decr=1.24","σ_decr=0.13"],["85'","X_basal=0.926","σ_basal=0.109"]],
 [["60'","Xc=1","σc=0.297"],["153'","X_decr=1.343","σ_decr=0.284"],["71'","X_basal=0.943","σ_basal=0.149"],["60'","X_2decr=0.40","σ_2decr=0.110"]],
 [["60'","Xc=1.0","σc=0.146"],["150'","X_decr=1.07","σ_decr=0.13"],["60'","X_basal=0.92","σ_basal=0.14"],["61'","X_2decr=0.65","σ_2decr=0.09"]],
 [["60'","Xc=1.0","σc=0.12"],["119'","X_decr=1.109","σ_decr=0.069"],["89'","X_basal=0.88","σ_basal=0.08"],["30'","X_2decr=0.428","σ_2decr=0.182"]],
 [["60'","Xc=1.0","σc=0.179"],["134'","X_decr=1.124","σ_decr=0.142"],["61'","X_basal=0.989","σ_basal=0.13"],["61'","X_2decr=0.656","σ_2decr=0.09"]],
 [["60'","Xc=1.0","σc=0.25"],["83'","X_decr=1.25","σ_decr=0.10"],["97'","X_basal=1.04","σ_basal=0.08"],["61'","X_2decr=0.51","σ_2decr=0.16"]],
 [["60'","Xc=1.0","σc=0.06"],["132'","X_decr=1.02","σ_decr=0.07"],["75'","X_basal=1","σ_basal=0.08"],["60'","X_2decr=0.47","σ_2decr=0.149"]],
 [["60'","Xc=1.0","σc=0.27"],["123'","X_decr=1.13","σ_decr=0.23"],["60'","X_basal=0.94","σ_basal=0.23"],["60'","X_2decr=0.512","σ_2decr=0.16"]],
 [["60'","Xc=1.0","σc=0.164"],["102'","X_decr=1.17","σ_decr=0.17"],["65'","X_basal=0.82","σ_basal=0.125"],["60'","X_2decr=0.36","σ_2decr=0.10"]],
 [["60'","Xc=1.0","σc=0.06"],["64'","X_decr=1.08","σ_decr=0.05"],["70'","X_basal=0.90","σ_basal=0.103"],["65'","X_2decr=0.35","σ_2decr=0.12"]]
];

// ---------- LAYOUT ----------
const grids = [[103,17,454,237],[629,17,456,236],[103,294,450,234],[630,294,457,234],[105,562,452,235],[630,563,455,234],[102,835,455,234],[630,835,456,234],[105,1108,452,236],[630,1108,453,235]];
const xTickSets = [xTicks1,xTicks1,xTicks3,xTicks4,xTicks3,xTicks4,xTicks7,xTicks8,xTicks4,xTicks4];
const notePos = [
 [[-58,0.79],[51,0.99],[209,0.61]],
 [[-64,0.72],[50,0.83],[155,0.60],[228,1.32]],
 [[-63,0.74],[38,0.81],[152,0.56],[218,1.45]],
 [[-60,0.68],[39,0.79],[129,0.65],[187,1.68]],
 [[-57,0.68],[34,0.81],[145,0.55],[208,1.40]],
 [[-58,0.74],[24,0.91],[105,0.84],[186,1.13]],
 [[-62,0.59],[26,0.70],[144,0.74],[243,1.63]],
 [[-60,0.61],[40,0.76],[131,0.61],[191,1.16]],
 [[-60,0.65],[19,0.74],[109,0.52],[184,1.64]],
 [[-60,0.69],[9,0.72],[74,0.65],[151,1.33]]
];
const points = [p1,p2,p3,p4,p5,p6,p7,p8,p9,p10];
const FONT = 'Liberation Sans, Arial, sans-serif';
const TEAL = '#62c6c8';
const EVENT_COLORS = ['#2fe02f', '#111111', '#e0322a'];

function richLine(s) {
  const m = s.match(/^([Xσ])_([a-z0-9]+)(=.*)$/);
  if (m) return '{n|' + m[1] + '}{s|' + m[2] + '}{n|' + m[3] + '}';
  return '{n|' + s + '}';
}

const option = { animation:false, backgroundColor:'#fff', grid:[], xAxis:[], yAxis:[], series:[], graphic:[] };

grids.forEach((g, i) => {
  option.grid.push({ left:g[0], top:g[1], width:g[2], height:g[3], show:true, borderColor:'#8a8a8a', borderWidth:1, backgroundColor:'#fff' });
  option.xAxis.push({ type:'value', gridIndex:i, min:xRanges[i][0], max:xRanges[i][1], splitLine:{show:false},
    axisLine:{show:true, onZero:false, lineStyle:{color:'#8a8a8a'}},
    axisTick:{show:true, length:4, customValues:xTickSets[i], lineStyle:{color:'#777'}},
    axisLabel:{customValues:xTickSets[i], color:'#555', fontSize:15, fontFamily:FONT, margin:7} });
  option.yAxis.push({ type:'value', gridIndex:i, min:0, max:2, interval:0.5, splitLine:{show:false},
    axisLine:{show:true, lineStyle:{color:'#8a8a8a'}},
    axisTick:{show:true, length:5, lineStyle:{color:'#777'}},
    axisLabel:{color:'#555', fontSize:15, fontFamily:FONT, margin:8, formatter: v => v.toFixed(1)} });

  const xr = xRanges[i], ev = events[i], ml = meanLevels[i];
  const bounds = [xr[0], ev[0], ev[1], ev[2] == null ? xr[1] : ev[2], xr[1]];
  ml.forEach((m, k) => {
    if (m == null) return;
    option.series.push({ type:'line', xAxisIndex:i, yAxisIndex:i, symbol:'none', silent:true, z:2,
      lineStyle:{color:TEAL, width:2, type:[14,6]}, data:[[bounds[k], m], [bounds[k+1], m]] });
  });
  option.series.push({ type:'scatter', xAxisIndex:i, yAxisIndex:i, symbolSize:6.5, z:3,
    itemStyle:{color:'#000', opacity:1}, data: points[i] });
  ev.forEach((v, k) => {
    if (v == null) return;
    option.series.push({ type:'line', xAxisIndex:i, yAxisIndex:i, symbol:'none', silent:true, z:4,
      lineStyle:{color:EVENT_COLORS[k], width: k === 1 ? 3 : 3.5}, data:[[v, 0], [v, 2]] });
  });
  option.series.push({ type:'scatter', xAxisIndex:i, yAxisIndex:i, symbolSize:0.1, z:6,
    itemStyle:{color:'rgba(0,0,0,0)'},
    label:{ show:true, position:[0,0], align:'left', verticalAlign:'top',
      formatter: p => notes[i][p.dataIndex].map(richLine).join('\n'),
      rich:{ n:{fontSize:15, fontWeight:'bold', color:'#383838', fontFamily:FONT, lineHeight:19},
             s:{fontSize:7, fontWeight:'bold', color:'#383838', fontFamily:FONT, lineHeight:13, verticalAlign:'bottom'} } },
    data: notePos[i] });
});

option.graphic = [
  { type:'text', x:33, y:685, rotation:Math.PI/2, style:{ text:'Amplitud normalizada', font:'30px Liberation Sans, Arial, sans-serif', fill:'#333', align:'center', verticalAlign:'middle' } },
  { type:'text', x:332, y:1393, style:{ text:'Tiempo (minutos)', font:'31px Liberation Sans, Arial, sans-serif', fill:'#333', align:'center', verticalAlign:'middle' } },
  { type:'text', x:858, y:1393, style:{ text:'Tiempo (minutos)', font:'31px Liberation Sans, Arial, sans-serif', fill:'#333', align:'center', verticalAlign:'middle' } }
];

const chart = echarts.init(document.getElementById('c'), null, {renderer:'canvas'});
chart.setOption(option);
</script></body></html>
